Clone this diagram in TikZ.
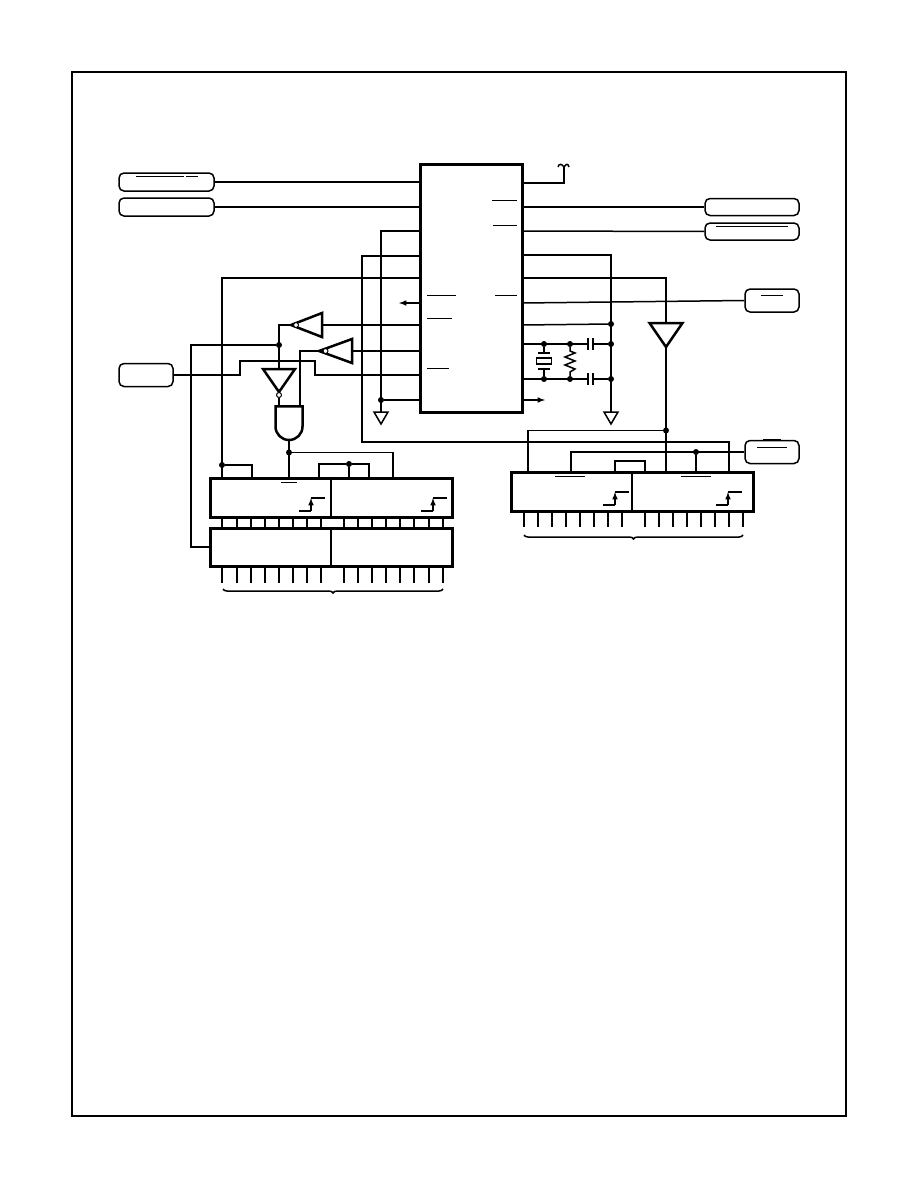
\documentclass[tikz,border=0pt]{standalone}
\usepackage{xcolor}
\usepackage{tikz}
\usetikzlibrary{shapes.geometric, shapes.gates.logic.US, decorations.pathreplacing, positioning}

\begin{document}
\begin{tikzpicture}[
    x=1pt, y=-1pt,
    wire/.style={line width=1.5pt},
    bar/.style={line width=1pt},
    arrow/.style={wire, -latex},
    chip/.style={rectangle, draw, line width=3pt, inner sep=0pt},
    pill/.style={rectangle, draw, line width=1.5pt, rounded corners=5pt, inner sep=0pt},
    gate/.style={isosceles triangle, isosceles triangle stretches, draw, line width=2.5pt, inner sep=0pt, outer sep=0pt},
    gnd/.style={isosceles triangle, isosceles triangle stretches, draw, line width=1.5pt, inner sep=0pt, outer sep=0pt, shape border rotate=270, minimum width=14pt, minimum height=12pt, anchor=lower side},
    bubble/.style={circle, draw, fill=white, line width=1pt, inner sep=0pt, minimum size=5pt},
    dot/.style={circle, fill=black, inner sep=0pt, minimum size=6pt},
    brace/.style={decorate, decoration={brace, amplitude=4pt}, wire}
]
\useasboundingbox (0,0) rectangle (918,1188);

% Page frame
\node[rectangle, draw, line width=2pt, minimum width=774pt, minimum height=1044pt] (frame) at (459,594) {};

% Controller
\node[chip, minimum width=102pt, minimum height=248pt] (mcu) at (471.5,288) {};
\foreach \n/\y in {1/182,2/207,3/231,4/256,5/278,6/303,7/325,8/351,9/375,10/400}
    \coordinate (ml\n) at (421,\y);
\foreach \n/\y in {1/183,2/207,3/231,4/255,5/278,6/303,7/325,8/344,9/379,10/400}
    \coordinate (mr\n) at (522,\y);

% Signal pills
\node[pill, minimum width=95pt, minimum height=18pt] (busa) at (166.5,182) {};
\node[pill, minimum width=95pt, minimum height=18pt] (busb) at (166.5,207) {};
\node[pill, minimum width=54pt, minimum height=23pt] (oe) at (146,375) {};
\node[pill, minimum width=94pt, minimum height=17pt] (outa) at (752,207) {};
\node[pill, minimum width=94pt, minimum height=17pt] (outb) at (752,231.5) {};
\node[pill, minimum width=54pt, minimum height=23pt] (outc) at (772,300.5) {};
\node[pill, minimum width=54pt, minimum height=23pt] (outd) at (772,452) {};

% Gates
\node[gate, shape border rotate=180, minimum width=24pt, minimum height=31pt, anchor=lower side] (inva) at (322,325) {};
\node[gate, shape border rotate=180, minimum width=24pt, minimum height=33pt, anchor=lower side] (invb) at (352,351) {};
\node[gate, shape border rotate=270, minimum width=32pt, minimum height=23pt, anchor=lower side] (invc) at (279,369) {};
\node[gate, shape border rotate=270, minimum width=33pt, minimum height=24pt, anchor=lower side] (buf) at (666,323) {};
\node[bubble] (bubblea) at (296,325) {};
\node[bubble] (bubbleb) at (325.5,351) {};
\node[bubble] (bubblec) at (279,395) {};
\node[and gate US, draw, line width=2.5pt, rotate=-90, logic gate inputs=nn, inner sep=0pt, minimum width=30pt, minimum height=24pt] (andg) at (289,422) {};

% Latches
\node[chip, minimum width=242pt, minimum height=39pt] (latcha) at (331,497.5) {};
\node[chip, minimum width=242pt, minimum height=38pt] (latchb) at (331,547) {};
\node[chip, minimum width=242pt, minimum height=39pt] (latchc) at (632,491.5) {};
\draw[wire] (latcha.north) -- (latcha.south);
\draw[wire] (latchb.north) -- (latchb.south);
\draw[wire] (latchc.north) -- (latchc.south);

% Grounds
\node[gnd] (gnda) at (381,412) {};
\node[gnd] (gndb) at (611,412) {};

% Junctions
\node[dot] (dota) at (381,400) {};
\node[dot] (dotb) at (222,465) {};
\node[dot] (dotc) at (279,345) {};
\node[dot] (dotd) at (289,452.5) {};
\node[dot] (dote) at (349,464) {};
\node[dot] (dotf) at (611,324) {};
\node[dot] (dotg) at (611,344) {};
\node[dot] (doth) at (611,379) {};
\node[dot] (doti) at (544,344) {};
\node[dot] (dotj) at (544,379) {};
\node[dot] (dotk) at (570,344) {};
\node[dot] (dotl) at (570,379) {};
\node[dot] (dotm) at (666,430.5) {};
\node[dot] (dotn) at (696,452) {};

% Crystal
\node[rectangle, draw, wire, minimum width=15pt, minimum height=6pt, inner sep=0pt] (xtal) at (544,361) {};
\coordinate (xtop) at (544,353);
\coordinate (xbot) at (544,369);
\draw[wire] (doti) -- (xtop);
\draw[wire] (dotj) -- (xbot);
\draw[wire] ([xshift=-6pt]xtop) -- ([xshift=6pt]xtop);
\draw[wire] ([xshift=-6pt]xbot) -- ([xshift=6pt]xbot);

% Bend points
\coordinate (anta) at (564,167);
\coordinate (rail) at (191,547);
\coordinate (loopa) at (362,442);
\coordinate (oea) at (240,361);
\coordinate (oeb) at (315,375);
\coordinate (inb) at (300,407);
\coordinate (inc) at (279,407);
\coordinate (qa) at (222,478);
\coordinate (qb) at (252,478);
\coordinate (qc) at (289,478);
\coordinate (qd) at (393,478);
\coordinate (qe) at (319,478);
\coordinate (qf) at (369,478);
\coordinate (qg) at (349,478);
\coordinate (ra) at (528,472);
\coordinate (rb) at (571,472);
\coordinate (rc) at (615,472);
\coordinate (rd) at (645,472);
\coordinate (re) at (666,472);
\coordinate (rf) at (696,472);
\coordinate (rg) at (729,472);
\coordinate (stub) at (399,303);
\coordinate (clk) at (545,400);

% Left side wires
\draw[wire] (busa.east) -- (ml1);
\draw[wire] (busb.east) -- (ml2);
\draw[wire] (ml3) -| (gnda.lower side);
\draw[wire] (ml4) -| (loopa) -| (rg);
\draw[wire] (ml5) -| (qa);
\draw[arrow] (ml6) -- (stub);
\draw[wire] (ml7) -- (inva.lower side);
\draw[wire] (ml8) -- (invb.lower side);
\draw[wire] (oe.east) -| (oea) -| (oeb) -- (ml9);
\draw[wire] (ml10) -- (dota);
\draw[wire] (bubblea.west) -| (invc.lower side);
\draw[wire] (bubbleb.west) -| (inb);
\draw[wire] (bubblec.south) -- (inc);
\draw[wire] (dotc) -| (rail) -- (latchb.west);
\draw[wire] (andg.output) -- (qc);
\draw[wire] (dotb) -| (qb);
\draw[wire] (dotd) -| (qd);
\draw[wire] (qe) |- (dote) -| (qf);
\draw[wire] (dote) -- (qg);

% Right side wires
\draw[wire] (mr1) -| (anta);
\draw[wire] (mr2) -- (outa.west);
\draw[wire] (mr3) -- (outb.west);
\draw[wire] (mr4) -| (gndb.lower side);
\draw[wire] (mr5) -| (buf.lower side);
\draw[wire] (mr6) -- (outc.west);
\draw[wire] (mr7) -- (dotf);
\draw[wire] (mr8) -- (588,344);
\draw[wire] (593,344) -- (dotg);
\draw[wire] (mr9) -- (588,379);
\draw[wire] (593,379) -- (doth);
\draw[arrow] (mr10) -- (clk);
\draw[wire] (buf.apex) -- (re);
\draw[wire] (dotm) -| (ra);
\draw[wire] (outd.west) -| (rb);
\draw[wire] (dotn) -- (rf);
\draw[wire] (rc) |- (645,461) -- (rd);

% Capacitors
\foreach \y in {344,379} {
    \draw[wire] (588,\y-6) -- (588,\y+6);
    \draw[wire] (593,\y-6) -- (593,\y+6);
}

% Resistor
\draw[wire] (dotk) -- (570,351) -- (575,353) -- (565,357) -- (575,361) -- (565,365) -- (575,369) -- (570,372) -- (dotl);

% Antenna
\draw[wire] (558,167) .. controls (559,163) and (562,164) .. (anta) .. controls (566,164) and (568,163) .. (569,167);

% Data pins
\foreach \x in {222,237,251,265,279,293,307,321,344,358,372,386,400,414,429,443} {
    \draw[wire] (\x,517) -- (\x,528);
    \draw[wire] (\x,566) -- (\x,583);
}
\foreach \x in {524,538,552,566,580,594,608,622,645,659,673,687,701,715,729,743}
    \draw[wire] (\x,511) -- (\x,527);

% Braces
\draw[brace] (443,589) -- (223,589);
\draw[brace] (743,535) -- (524,535);

% Clock edges
\foreach \x/\y in {311/511,433/511,615/505,728/505} {
    \draw[wire] (\x-12,\y) -- (\x,\y);
    \draw[arrow] (\x,\y) -- (\x,\y-13);
    \draw[wire] (\x,\y-13) -- (\x+14,\y-13);
}

% Bars
\foreach \a/\b/\y in {427/456/295.5, 427/452/318, 427/449/368, 492/517/200, 493/517/225, 495/517/295,
    136/184/176, 186/198/176, 716/788/226, 761/783/295, 757/787/447, 281/297/482, 555/585/476, 681/711/476}
    \draw[bar] (\a,\y) -- (\b,\y);
\draw[wire] (137,386.5) -- (157,386.5);
\draw[wire] (763,440) -- (781,440);

\end{tikzpicture}
\end{document}
